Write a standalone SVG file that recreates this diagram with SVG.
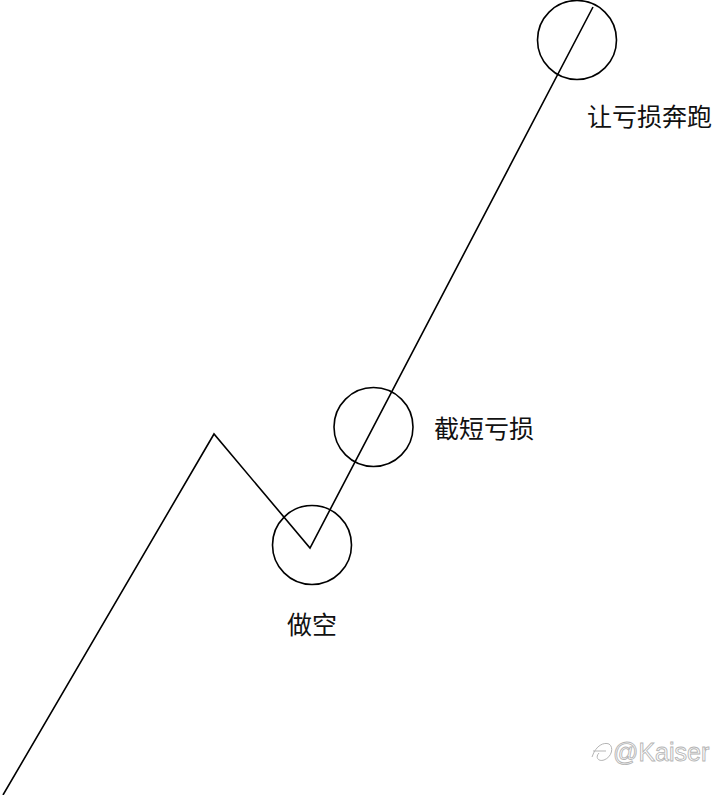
<svg xmlns="http://www.w3.org/2000/svg" width="720" height="795" viewBox="0 0 720 795">
<style>
.ln{fill:none;stroke:#000;stroke-width:1.6;stroke-linejoin:miter}
.c{fill:none;stroke:#000;stroke-width:1.6}
.t{font-family:"Noto Sans CJK SC","Noto Sans",sans-serif;font-size:25px;fill:#111}
.wm{font-family:"Liberation Sans","DejaVu Sans",sans-serif;font-size:25px;fill:#fff;stroke:#b5b5b5;stroke-width:0.9}
</style>
<rect width="720" height="795" fill="#fff"/>
<g id="connectors">
<polyline class="ln" points="3,795 214,434 310,548 593,7"/>
</g>
<g id="node-short">
<circle class="c" cx="312" cy="545" r="39.5"/>
<text class="t" x="287" y="634">做空</text>
</g>
<g id="node-cut">
<circle class="c" cx="373.5" cy="427" r="39.5"/>
<text class="t" x="434" y="438">截短亏损</text>
</g>
<g id="node-run">
<circle class="c" cx="577" cy="40" r="39.5"/>
<text class="t" x="587" y="126">让亏损奔跑</text>
</g>
<g id="watermark">
<path d="M592,757 C596,745 604,742 609,744 C614,747 612,757 604,760 C598,762 595,757 599,753 M593,751 L606,751" fill="none" stroke="#b5b5b5" stroke-width="1"/>
<text class="wm" x="613" y="761">@Kaiser</text>
</g>
</svg>
